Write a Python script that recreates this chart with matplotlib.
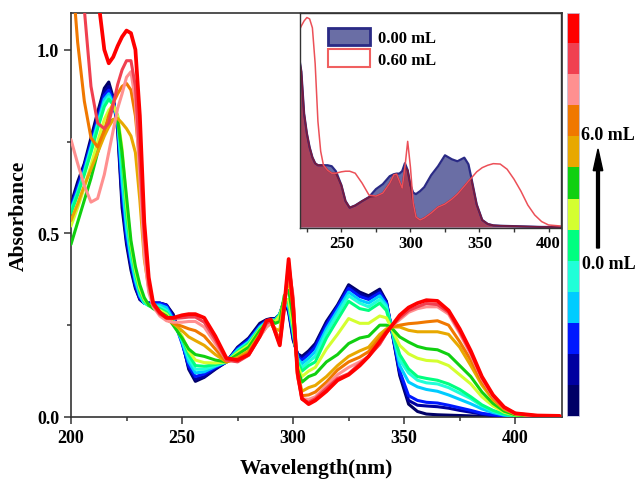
import numpy as np
import matplotlib
matplotlib.use("Agg")
from matplotlib import pyplot as plt
from matplotlib.colors import ListedColormap
from matplotlib.patches import Patch, FancyArrow
from matplotlib.ticker import MultipleLocator

plt.rcParams["font.family"] = ["Liberation Serif", "DejaVu Serif"]
plt.rcParams["font.weight"] = "bold"

# ------------------------------------------------------------------------------
#  Data
# ------------------------------------------------------------------------------

wl = [200, 203, 206, 209, 212, 215, 217, 219, 221, 223,
      225, 227, 229, 231, 233, 235, 237, 240, 243, 246,
      250, 253, 256, 260, 265, 270, 275, 280, 285, 288,
      290, 292, 294, 296, 298, 300, 302, 304, 307, 310,
      315, 320, 325, 330, 334, 339, 342, 344, 348, 352,
      356, 360, 365, 370, 375, 380, 385, 390, 395, 400,
      410, 420]

a0 = [.58, .64, .69, .76, .83, .895, .912, .87, .78, .57,
      .47, .40, .35, .32, .31, .31, .31, .31, .305, .28,
      .21, .13, .097, .108, .13, .15, .19, .215, .255, .265,
      .268, .268, .28, .32, .285, .21, .172, .165, .18, .20,
      .26, .305, .36, .34, .33, .348, .315, .25, .113, .035,
      .015, .008, .006, .005, .004, .003, .002, .001, 0, 0,
      0, 0]
a1 = [.575, .63, .685, .75, .82, .885, .90, .865, .79, .59,
      .48, .41, .355, .32, .31, .31, .31, .31, .305, .275,
      .205, .135, .103, .11, .132, .15, .188, .212, .25, .263,
      .266, .266, .278, .315, .29, .215, .17, .16, .175, .195,
      .255, .30, .355, .335, .325, .343, .313, .25, .12, .045,
      .032, .03, .028, .024, .018, .013, .008, .004, .002, .001,
      0, 0]
a2 = [.57, .625, .68, .745, .81, .875, .89, .86, .80, .61,
      .49, .42, .36, .325, .31, .31, .31, .31, .303, .27,
      .20, .14, .11, .117, .135, .15, .186, .21, .248, .262,
      .266, .266, .28, .31, .295, .22, .165, .155, .17, .19,
      .25, .30, .35, .328, .32, .338, .31, .25, .125, .058,
      .045, .04, .038, .032, .025, .018, .01, .006, .003, .001,
      0, 0]
a3 = [.565, .615, .67, .735, .80, .865, .88, .855, .81, .64,
      .51, .43, .37, .33, .31, .305, .305, .305, .298, .265,
      .205, .15, .12, .123, .138, .15, .183, .205, .245, .26,
      .265, .264, .28, .31, .30, .23, .16, .145, .16, .178,
      .24, .29, .34, .318, .31, .33, .305, .25, .14, .095,
      .082, .075, .07, .06, .048, .036, .022, .012, .005, .002,
      0, 0]
a4 = [.56, .61, .665, .73, .795, .855, .872, .85, .815, .67,
      .53, .44, .38, .335, .31, .303, .303, .30, .29, .26,
      .21, .16, .13, .13, .14, .15, .18, .203, .242, .258,
      .264, .263, .28, .31, .305, .235, .155, .135, .15, .165,
      .23, .28, .33, .31, .30, .32, .30, .25, .155, .12,
      .10, .093, .09, .08, .065, .05, .03, .016, .007, .003,
      .001, 0]
a5 = [.555, .605, .66, .72, .785, .845, .865, .85, .82, .70,
      .55, .455, .39, .34, .315, .303, .30, .295, .285, .26,
      .215, .17, .14, .138, .143, .15, .178, .20, .24, .257,
      .263, .262, .28, .315, .31, .24, .15, .125, .14, .15,
      .215, .265, .315, .295, .29, .31, .29, .248, .17, .131,
      .11, .105, .10, .09, .075, .055, .033, .018, .008, .003,
      .001, 0]
a6 = [.52, .57, .625, .685, .75, .81, .835, .85, .82, .73,
      .58, .47, .40, .35, .32, .305, .30, .29, .28, .255,
      .22, .18, .155, .148, .147, .15, .175, .195, .238, .256,
      .263, .26, .275, .32, .32, .25, .14, .11, .125, .135,
      .185, .225, .268, .255, .255, .275, .27, .245, .195, .172,
      .16, .154, .152, .14, .115, .09, .055, .03, .013, .005,
      .001, 0]
a7 = [.47, .53, .59, .65, .72, .78, .80, .81, .81, .72,
      .60, .48, .41, .36, .325, .305, .295, .285, .275, .25,
      .215, .185, .17, .165, .155, .15, .17, .19, .235, .255,
      .263, .255, .26, .33, .345, .27, .13, .095, .11, .117,
      .15, .17, .20, .215, .22, .25, .25, .245, .218, .204,
      .192, .186, .183, .17, .14, .11, .068, .037, .016, .006,
      .001, 0]
a8 = [.535, .58, .63, .675, .72, .765, .79, .81, .813, .80,
      .785, .765, .72, .59, .43, .35, .31, .285, .27, .255,
      .235, .218, .208, .195, .17, .15, .162, .18, .225, .25,
      .258, .24, .235, .32, .375, .30, .12, .07, .08, .086,
      .11, .14, .165, .18, .19, .225, .24, .245, .245, .236,
      .232, .232, .232, .225, .19, .14, .087, .047, .021, .008,
      .002, .001]
a9 = [1.25, 1.02, .86, .76, .735, .78, .82, .855, .88, .90,
      .908, .89, .82, .69, .47, .36, .31, .28, .265, .255,
      .247, .24, .235, .22, .185, .15, .158, .175, .22, .245,
      .255, .235, .21, .30, .395, .32, .11, .058, .06, .068,
      .095, .128, .15, .163, .178, .215, .235, .245, .25, .254,
      .256, .259, .262, .25, .205, .155, .096, .052, .023, .009,
      .002, .001]
a10 = [.755, .69, .63, .585, .595, .66, .72, .78, .84, .88,
       .925, .94, .86, .65, .44, .34, .30, .275, .262, .258,
       .258, .26, .26, .245, .20, .155, .152, .17, .218, .245,
       .258, .232, .20, .29, .41, .33, .11, .05, .048, .055,
       .085, .115, .135, .15, .165, .20, .228, .245, .265, .285,
       .295, .30, .30, .28, .228, .17, .104, .056, .025, .009,
       .002, .001]
a11 = [1.5, 1.3, 1.11, .90, .80, .785, .80, .85, .905, .945,
       .97, .97, .90, .70, .49, .36, .305, .28, .27, .268,
       .27, .272, .272, .258, .21, .155, .15, .168, .218, .255,
       .262, .23, .198, .30, .42, .32, .12, .048, .04, .05,
       .078, .105, .118, .145, .165, .198, .228, .245, .27, .29,
       .30, .309, .306, .285, .233, .175, .107, .058, .026, .01,
       .003, .002]
a12 = [2.0, 1.8, 1.6, 1.4, 1.15, 1.0, .963, .98, 1.01, 1.035,
       1.052, 1.045, 1.00, .82, .53, .38, .31, .285, .27, .27,
       .277, .28, .28, .27, .22, .16, .155, .17, .22, .262,
       .265, .23, .195, .30, .43, .30, .12, .05, .035, .045,
       .07, .10, .115, .14, .165, .205, .23, .245, .277, .298,
       .31, .318, .316, .29, .24, .18, .11, .06, .027, .01,
       .004, .003]

spectra = [a0, a1, a2, a3, a4, a5, a6, a7, a8, a9, a10, a11, a12]
colors = ["#000066", "#0000a0", "#0018ff", "#00ccff", "#20ffd8", "#00ff80",
          "#d4ff30", "#10d010", "#e8a800", "#f07800", "#ff9090", "#f04050",
          "#ff0000"]

inset_labels = ["0.00 mL", "0.60 mL"]
cbar_labels = ["6.0 mL", "0.0 mL"]

# ------------------------------------------------------------------------------
#  Main plot
# ------------------------------------------------------------------------------

fig = plt.figure(figsize=(6.35, 4.81), dpi=100)
ax = fig.add_axes([0.1118, 0.131, 0.773, 0.840])

for i, (spec, col) in enumerate(zip(spectra, colors)):
    lw = 2.7 if i == len(spectra) - 1 else 2.2
    ax.plot(wl, spec, color=col, lw=lw, solid_capstyle="round",
            solid_joinstyle="round", zorder=2 + i)

ax.set_xlim(200, 421)
ax.set_ylim(0, 1.10)
ax.xaxis.set_major_locator(MultipleLocator(50))
ax.xaxis.set_minor_locator(MultipleLocator(25))
ax.yaxis.set_major_locator(MultipleLocator(0.5))
ax.yaxis.set_minor_locator(MultipleLocator(0.25))
ax.yaxis.set_major_formatter(plt.FormatStrFormatter("%.1f"))
ax.tick_params(which="both", direction="out", labelsize=13, width=1.1,
               color="#333333")
ax.tick_params(which="major", length=5)
ax.tick_params(which="minor", length=3)
for lab in ax.get_xticklabels() + ax.get_yticklabels():
    lab.set_fontweight("bold")
for sp in ax.spines.values():
    sp.set_linewidth(1.2)
    sp.set_color("#333333")
ax.set_xlabel("Wavelength(nm)", fontsize=15.5, fontweight="bold", labelpad=9)
ax.set_ylabel("Absorbance", fontsize=15.5, fontweight="bold", labelpad=6)

# ------------------------------------------------------------------------------
#  Inset
# ------------------------------------------------------------------------------

ax_in = fig.add_axes([0.4724, 0.524, 0.411, 0.447])
wl_arr = np.array(wl)
first = np.array(a0)
last = np.array(a12)
low = np.minimum(first, last)

ax_in.fill_between(wl_arr, 0, first, color="#6a6ea5", lw=0)
ax_in.plot(wl_arr, first, color="#2a2a85", lw=1.6)
ax_in.fill_between(wl_arr, 0, low, color="#a5415a", lw=0)
ax_in.plot(wl_arr, low, color="#7a1a3c", lw=1.2)
ax_in.plot(wl_arr, last, color="#ec5058", lw=1.1)

ax_in.set_xlim(220, 409)
ax_in.set_ylim(-0.005, 1.075)
ax_in.set_yticks([])
ax_in.xaxis.set_major_locator(MultipleLocator(50))
ax_in.xaxis.set_minor_locator(MultipleLocator(25))
ax_in.tick_params(which="both", direction="out", labelsize=12, width=1.0,
                  color="#333333", pad=2)
ax_in.tick_params(which="major", length=3)
ax_in.tick_params(which="minor", length=3)
for lab in ax_in.get_xticklabels():
    lab.set_fontweight("bold")
for sp in ax_in.spines.values():
    sp.set_linewidth(1.0)
    sp.set_color("#333333")

handles = [
    Patch(facecolor="#6a6ea5", edgecolor="#2a2a85", lw=2.0),
    Patch(facecolor="white", edgecolor="#f06060", lw=1.5),
]
ax_in.legend(handles, inset_labels, loc="upper left",
             bbox_to_anchor=(0.05, 1.0), frameon=False, handlelength=2.5,
             handleheight=1.2, handletextpad=0.5, labelspacing=0.2,
             prop={"size": 12, "weight": "bold"})

# ------------------------------------------------------------------------------
#  Colour bar and arrow
# ------------------------------------------------------------------------------

ax_cb = fig.add_axes([0.893, 0.133, 0.019, 0.838])
ax_cb.imshow(np.arange(len(colors)).reshape(-1, 1), cmap=ListedColormap(colors),
             aspect="auto", origin="lower", interpolation="nearest")
ax_cb.set_xticks([])
ax_cb.set_yticks([])
for sp in ax_cb.spines.values():
    sp.set_linewidth(0.6)
    sp.set_color("#c8c8e0")

fig.text(0.958, 1 - 136 / 481, cbar_labels[0], ha="center", va="center",
         fontsize=13, fontweight="bold")
fig.text(0.958, 1 - 265 / 481, cbar_labels[1], ha="center", va="center",
         fontsize=13, fontweight="bold")
fig.patches.append(FancyArrow(
    598 / 635, 1 - 249 / 481, 0, (249 - 150) / 481, width=0.0045,
    head_width=0.015, head_length=0.045, length_includes_head=True,
    color="black", transform=fig.transFigure, figure=fig))

fig.savefig("out.png", dpi=100)
